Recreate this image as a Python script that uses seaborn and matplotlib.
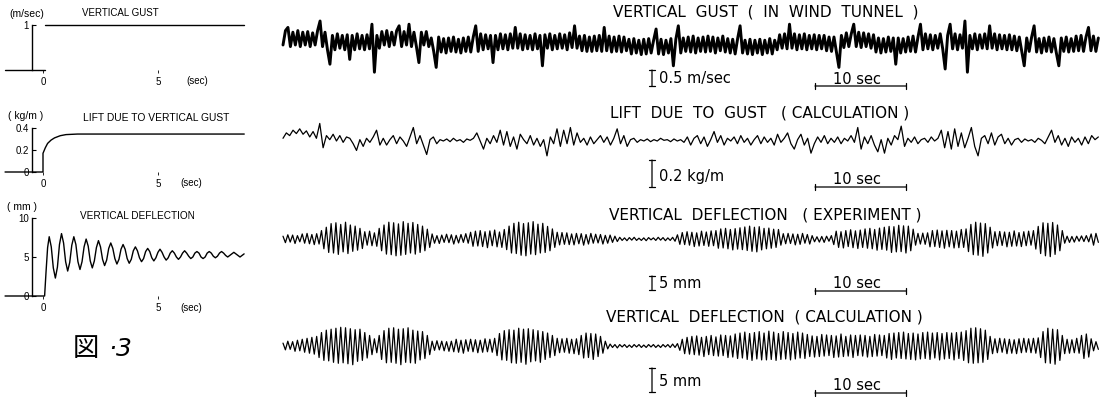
import numpy as np
import matplotlib
matplotlib.use("Agg")
import matplotlib.pyplot as plt
import seaborn as sns

# ---- left column: response to a unit step gust (time in sec) ----
gust_step_t = [-1.65, 0.1, 0.1, 8.75]
gust_step_v = [0, 0, 1, 1]  # m/sec

lift_step_t = [-1.65, 0, 0, 0.1, 0.2, 0.35, 0.5, 0.75, 1.0, 1.5, 8.75]
lift_step_v = [0, 0, 0.17, 0.22, 0.26, 0.29, 0.31, 0.33, 0.34, 0.345, 0.345]  # kg/m

defl_rise_t = [-1.65, 0.07, 0.13, 0.2]
defl_rise_v = [0, 0, 3.0, 6.2]
# mm, read every 0.0892 sec starting at the first peak (0.27 sec)
defl_osc_v = [7.6, 6.3, 3.6, 2.3, 3.7, 6.6, 8.0, 6.8, 4.4, 3.2, 4.3, 6.5,
              7.6, 6.6, 4.4, 3.4, 4.4, 6.3, 7.3, 6.4, 4.5, 3.6, 4.5, 6.2,
              7.1, 6.3, 4.7, 3.9, 4.6, 6.1, 6.8, 6.1, 4.8, 4.1, 4.7, 6.0,
              6.6, 6.0, 4.8, 4.2, 4.7, 5.8, 6.3, 5.8, 4.9, 4.4, 4.8, 5.7,
              6.1, 5.7, 4.9, 4.5, 4.9, 5.6, 6.0, 5.6, 5.0, 4.6, 4.9, 5.5,
              5.8, 5.5, 5.0, 4.7, 5.0, 5.5, 5.8, 5.5, 5.1, 4.8, 5.0, 5.5,
              5.7, 5.5, 5.0, 4.8, 5.0, 5.5, 5.7, 5.5, 5.1, 4.9, 5.1, 5.5,
              5.7, 5.5, 5.2, 5.0, 5.2, 5.4, 5.6, 5.4, 5.2, 5.0, 5.2, 5.4]
defl_osc_t0, defl_osc_dt = 0.27, 0.0892

# ---- right column: recorded / computed time histories ----
record_sec = 89.6

gust_cms = [  # cm/sec
    0, 45, 55, -5, 40, 0, 45, -5, 40, 0, 42, -5, 38, 0, 45, 75, -5, 40, -15, -60,
    30, -15, 35, -10, 30, -15, 32, -45, 30, -15, 35, -12, 30, -15, 32, -12, 65, -85, 30, -10,
    42, 0, 45, -5, 40, 0, 45, 60, -5, 42, 0, 65, -5, 40, -5, -55, 40, 0, 42, -5,
    22, -20, -70, 25, -22, 20, -25, 22, -20, 25, -22, 18, -25, 22, -20, 25, -22, 25, 60, -20,
    35, -15, 32, -12, 30, -55, 30, -15, 35, -12, 32, -15, 35, -10, 55, -10, 35, -15, 32, -12,
    30, -15, 35, -12, 30, -65, 32, -10, 35, -15, 30, -12, 35, -10, 32, -15, 38, -8, 60, -10,
    28, -18, 30, -20, 25, -20, 28, -18, 30, -20, 55, -18, 28, -22, 25, -20, 28, -22, 25, -18,
    18, -28, 20, -25, 15, -30, 18, -28, 20, -25, 15, 50, -28, 18, -30, 15, -25, 20, -65, 18,
    60, -25, 22, -20, 25, -22, 28, -25, 22, -20, 25, -22, 28, -20, 25, -25, 22, -18, 28, -22,
    20, -25, 18, -28, 20, 60, -25, 15, -28, 18, -30, 15, -25, 18, -30, 15, -25, 20, -28, 15,
    -15, 32, -10, 35, -12, 65, -10, 35, -15, 32, -12, 35, -15, 30, -12, 32, -15, 30, -12, 30,
    -18, 25, -20, 25, -22, -70, 30, -8, 38, -5, 35, 65, -5, 40, -8, 38, -5, 35, -10, 32,
    -22, 22, -25, 20, -22, 25, -20, 22, -60, 22, -25, 20, -22, 25, -20, 28, -22, 25, 65, -15,
    35, -12, 32, -15, 30, -10, 35, -12, -75, 30, 65, -12, 35, -15, 32, -10, 75, -85, 30, -12,
    35, -15, 32, -10, 35, -12, 60, -10, 35, -15, 32, -12, 30, -15, 32, -15, 28, -18, 25, -20,
    -65, 22, -20, 25, 60, -22, 20, -25, 22, -20, 25, -22, 20, -25, -65, 22, -20, 25, -22, 20,
    -20, 28, -18, 30, -20, 25, 55, -18, 28, -20, 22]

lift_gm = [  # g/m
    20, 60, 40, 80, 55, 90, 50, 75, 30, 70, 20, 130, -50, 40, 10,
    50, 0, 40, -10, 30, 20, -20, -70, 10, -40, 20, -10, 30, 80, -30,
    20, -30, 10, 40, -20, 30, 0, -40, 30, 100, -20, 40, -30, -100, 10,
    30, -20, 10, 0, 15, -5, 20, 0, 10, -10, 15, 5, 20, 60, 0,
    -60, 20, -20, 40, -10, 80, -30, 70, -40, 30, -60, 50, 10, -20, 40,
    -30, 20, -40, 10, -110, 30, -20, 90, -40, 80, -20, 100, -30, 60, -10,
    20, -30, 30, -20, 10, 40, -10, 30, -30, 20, 90, -20, 40, -40, 10,
    20, -10, 10, 0, 15, -5, 10, 0, 20, 5, 10, -5, 15, 0, 10,
    -10, 30, -30, 20, 40, -20, 30, -40, 10, 70, -10, 40, -30, 20, 0,
    30, -20, 40, -10, 20, -30, 10, 40, -20, 30, -10, 20, -30, 50, -10,
    20, 60, -20, -60, 10, 50, -30, 20, -90, -20, 30, -10, 40, -20, 20,
    -10, 30, -20, 20, 0, 40, -10, 100, -60, 30, -20, 40, -30, -80, 10,
    -90, 20, -30, 40, 10, 110, -40, 20, -10, 30, -20, 10, 20, -10, 30,
    0, 20, 80, -50, 70, -60, 90, -40, 60, -50, 20, 100, -40, -110, 20,
    40, -20, 60, -30, 30, 50, -20, 20, -30, 10, 20, -10, 15, 0, 10,
    -10, 20, 5, -20, 30, 80, -10, 40, -30, 20, -40, 30, -10, 20, -30,
    30, -20, 40, 10, 30]

defl_exp_mm = [  # successive peaks / troughs
    1.0, -1.3, 1.5, -1.1, 1.4, -1.6, 1.2, -1.0, 1.8, -1.5, 2.0, -1.7, 1.6, -2.0, 1.9, -1.8, 3.0, -3.5, 4.2, -4.8,
    5.5, -5.0, 5.8, -5.5, 5.2, -4.6, 6.0, -5.2, 5.0, -4.4, 4.6, -4.0, 3.8, -3.4, 2.6, -2.2, 2.8, -2.4, 2.2, -2.6,
    3.8, -4.2, 5.0, -5.4, 6.0, -5.6, 5.8, -6.0, 5.4, -5.8, 6.2, -5.5, 5.6, -5.0, 5.9, -5.4, 5.2, -4.8, 4.6, -4.2,
    3.5, -3.0, 1.8, -1.5, 1.2, -1.6, 1.4, -1.2, 1.7, -1.3, 1.5, -1.8, 1.3, -1.4, 1.6, -1.2, 1.9, -1.5, 2.4, -2.6,
    2.8, -2.5, 3.0, -2.7, 2.6, -3.1, 2.9, -2.4, 3.2, -2.8, 2.5, -3.0, 3.4, -3.8, 4.6, -5.0, 5.6, -5.2, 6.0, -5.8,
    5.5, -6.0, 5.8, -5.4, 6.2, -5.6, 5.3, -5.0, 5.6, -4.8, 4.5, -4.2, 3.6, -3.0, 2.4, -2.1, 2.3, -1.9, 2.2, -2.0,
    1.8, -2.1, 2.0, -1.7, 1.9, -2.2, 1.6, -1.8, 2.0, -1.5, 1.7, -1.4, 1.6, -1.8, 1.3, -1.5, 1.4, -1.2, 1.0, -0.9,
    0.6, -0.5, 0.4, -0.6, 0.5, -0.4, 0.6, -0.5, 0.3, -0.5, 0.4, -0.6, 0.5, -0.3, 0.4, -0.5, 0.6, -0.4, 0.5, -0.6,
    0.4, -0.5, 0.6, -0.8, 1.5, -1.9, 2.3, -2.0, 2.6, -2.2, 2.4, -2.7, 2.2, -2.5, 2.8, -2.3, 2.5, -2.6, 2.9, -2.4,
    3.0, -3.3, 3.6, -3.2, 3.8, -3.5, 3.4, -3.9, 3.7, -3.6, 4.0, -3.8, 4.3, -4.1, 4.6, -4.4, 4.2, -4.6, 4.4, -3.9,
    3.8, -3.5, 3.9, -3.3, 3.5, -3.0, 3.4, -2.2, 1.9, -1.7, 2.0, -1.6, 1.8, -2.1, 1.7, -1.9, 2.0, -1.5, 1.6, -1.8,
    1.2, -1.0, 0.8, -1.1, 0.9, -1.2, 1.0, -0.8, 1.2, -2.0, 2.8, -3.0, 2.6, -3.2, 3.0, -2.7, 3.3, -3.1, 2.9, -3.4,
    3.2, -3.0, 3.6, -3.3, 3.8, -3.5, 3.4, -4.0, 3.9, -3.7, 4.2, -4.0, 4.5, -4.8, 4.4, -4.6, 4.9, -4.5, 4.7, -5.0,
    4.6, -4.2, 3.5, -2.2, 2.0, -1.8, 2.1, -1.9, 2.2, -2.8, 3.0, -2.7, 3.2, -3.0, 2.9, -3.3, 3.1, -2.8, 3.0, -3.2,
    2.8, -3.1, 3.4, -3.0, 3.6, -4.5, 5.2, -5.6, 6.0, -5.8, 5.7, -6.2, 5.5, -5.0, 4.2, -3.2, 2.6, -2.4, 2.7, -2.3,
    2.5, -2.8, 2.4, -2.6, 2.9, -2.5, 2.3, -2.7, 2.6, -2.4, 2.8, -2.2, 3.0, -3.6, 4.5, -5.2, 5.8, -6.0, 5.6, -6.3,
    5.9, -5.5, 5.0, -4.2, 3.0, -1.5, 1.0, -1.2, 0.9, -1.1, 1.0, -0.8, 1.1, -0.9, 1.2, -1.0, 1.8, -2.2, 2.0, -1.2]

defl_calc_mm = [
    0.6, -0.8, 1.0, -0.7, 0.9, -1.1, 1.2, -1.0, 1.4, -1.3, 1.6, -1.5, 1.8, -1.7, 2.0, -2.4, 2.8, -3.0, 3.3, -3.1,
    3.5, -3.4, 3.7, -3.6, 3.9, -3.5, 3.8, -3.7, 3.6, -3.9, 3.4, -3.2, 3.5, -3.0, 2.8, -2.5, 2.2, -1.8, 1.5, -1.4,
    2.2, -2.8, 3.2, -3.5, 3.7, -3.4, 3.8, -3.6, 3.5, -3.9, 3.6, -3.4, 3.8, -3.5, 3.3, -3.6, 3.1, -2.9, 3.0, -2.6,
    2.2, -1.8, 1.0, -0.9, 1.1, -0.8, 1.0, -1.0, 0.9, -1.1, 1.0, -1.2, 1.4, -1.3, 1.2, -1.5, 1.3, -1.1, 1.4, -1.2,
    1.3, -1.4, 1.2, -1.3, 1.5, -1.2, 1.4, -1.3, 1.6, -2.0, 2.6, -2.9, 3.2, -3.0, 3.4, -3.5, 3.3, -3.6, 3.7, -3.4,
    3.5, -3.8, 3.6, -3.3, 3.4, -3.1, 3.2, -3.4, 3.0, -2.8, 2.7, -2.4, 2.2, -2.0, 1.6, -1.4, 1.5, -1.3, 1.6, -1.5,
    1.4, -1.6, 1.5, -1.8, 2.2, -2.5, 2.7, -2.4, 2.6, -2.8, 2.5, -2.2, 2.0, -1.5, 1.0, -0.6, 0.4, -0.3, 0.3, -0.4,
    0.3, -0.2, 0.3, -0.3, 0.2, -0.3, 0.3, -0.2, 0.3, -0.3, 0.2, -0.3, 0.3, -0.2, 0.3, -0.3, 0.2, -0.3, 0.3, -0.2,
    0.3, -0.3, 0.4, -0.3, 0.5, -0.9, 1.4, -1.6, 1.8, -1.7, 2.0, -1.8, 2.1, -1.9, 1.8, -2.2, 2.0, -1.8, 2.2, -2.0,
    1.9, -2.1, 2.3, -2.0, 2.2, -2.4, 2.1, -2.3, 2.5, -2.6, 2.7, -2.5, 2.9, -2.8, 2.6, -3.0, 2.8, -2.7, 3.0, -2.9,
    2.7, -2.9, 3.1, -2.8, 2.9, -3.0, 2.6, -2.8, 3.0, -2.7, 2.8, -2.9, 2.6, -2.7, 2.9, -2.5, 2.7, -2.6, 2.4, -2.2,
    2.1, -2.3, 2.0, -2.2, 2.4, -2.1, 2.3, -2.0, 2.2, -2.4, 2.1, -2.3, 2.5, -2.2, 2.0, -2.1, 2.3, -2.4, 2.2, -2.0,
    2.3, -2.1, 2.2, -2.3, 2.0, -2.2, 2.4, -2.1, 2.3, -2.0, 2.2, -2.5, 2.6, -2.8, 2.7, -2.5, 2.8, -2.6, 2.9, -2.7,
    2.6, -2.8, 2.7, -2.9, 2.5, -2.7, 2.8, -2.6, 2.9, -2.8, 2.7, -2.5, 2.8, -2.9, 2.6, -2.7, 2.8, -2.6, 2.7, -2.9,
    2.8, -2.6, 2.9, -3.0, 3.2, -3.5, 3.7, -3.6, 3.8, -3.5, 3.6, -3.4, 3.3, -2.8, 2.0, -1.6, 1.5, -1.4, 1.6, -1.3,
    1.5, -1.6, 1.4, -1.5, 1.3, -1.6, 1.5, -1.4, 1.6, -1.3, 1.5, -1.4, 1.6, -1.5, 1.7, -2.4, 3.0, -3.5, 3.7, -3.6,
    3.5, -3.8, 3.4, -3.0, 2.2, -1.6, 1.4, -1.5, 1.3, -1.4, 1.6, -1.5, 2.2, -2.6, 2.5, -2.3, 1.5, -1.0, 0.9, -0.7]


W, H = 1112, 397
sns.set_theme(style="white")
plt.rcParams['font.family'] = ['Liberation Sans', 'DejaVu Sans']
plt.rcParams['text.color'] = 'black'
plt.rcParams['xtick.color'] = 'black'
plt.rcParams['ytick.color'] = 'black'
plt.rcParams['axes.edgecolor'] = 'black'
WIDE = ['DejaVu Sans']  # lettering on the right is broad and open

fig = plt.figure(figsize=(W / 100, H / 100), dpi=100)
fig.patch.set_facecolor('white')


def make_axes(box, t0, v0, kx, ky):
    # box in pixels (left, top, right, bottom); t0/v0 = pixel of the data origin
    x0, y0, x1, y1 = box
    ax = fig.add_axes([x0 / W, 1 - y1 / H, (x1 - x0) / W, (y1 - y0) / H])
    ax.set_facecolor('none')
    for s in ax.spines.values():
        s.set_visible(False)
    lims = (((x0 - t0) / kx, (x1 - t0) / kx), ((v0 - y1) / ky, (v0 - y0) / ky))

    def to_data(px, py):
        return (px - t0) / kx, (v0 - py) / ky
    return ax, lims, to_data


def finish(ax, lims):
    ax.set_xlim(*lims[0])
    ax.set_ylim(*lims[1])
    ax.set_xlabel('')
    ax.set_ylabel('')
    ax.set_xticks([])
    ax.set_yticks([])


def trace(ax, t, v, lw):
    sns.lineplot(x=list(t), y=list(v), ax=ax, color='black', linewidth=lw,
                 estimator=None, sort=False)


def ftext(px, py, s, size, ha='center', **kw):
    fig.text(px / W, 1 - py / H, s, fontsize=size, ha=ha, va='center', **kw)


def style_left(ax, lims, yticks, ylabels, ytop):
    finish(ax, lims)
    ax.spines['left'].set_visible(True)
    ax.spines['left'].set_position(('data', -0.48))
    ax.spines['left'].set_bounds(0, ytop)
    ax.spines['left'].set_linewidth(1.0)
    ax.spines['bottom'].set_position(('data', 0))
    ax.set_yticks(yticks, ylabels)
    ax.set_xticks([0, 5], ['0', '5'])
    ax.tick_params(axis='y', left=True, direction='in', length=3, width=0.8,
                   labelsize=7, pad=2)
    ax.tick_params(axis='x', bottom=True, direction='out', length=2, width=0.6,
                   labelsize=7, pad=3)


# ---- left panels ----
ax, lims, _ = make_axes((0, 0, 262, 96), 43, 70, 23, 45)
trace(ax, gust_step_t[:2], gust_step_v[:2], 1.0)
trace(ax, gust_step_t[2:], gust_step_v[2:], 1.0)
style_left(ax, lims, [1], ['1'], 1)
ftext(27, 14, '(m/sec)', 7.5)
ftext(120, 13, 'VERTICAL GUST', 7)
ftext(197, 81, '(sec)', 7)

ax, lims, _ = make_axes((0, 100, 262, 196), 43, 172, 23, 110)
trace(ax, lift_step_t, lift_step_v, 1.0)
style_left(ax, lims, [0, 0.2, 0.4], ['0', '0.2', '0.4'], 0.4)
ftext(26, 116, '( kg/m )', 7.5)
ftext(156, 118, 'LIFT DUE TO VERTICAL GUST', 7.4)
ftext(191, 183, '(sec)', 7)

ax, lims, _ = make_axes((0, 200, 262, 320), 43, 296, 23, 7.8)
osc_t = defl_osc_t0 + defl_osc_dt * np.arange(len(defl_osc_v))
trace(ax, defl_rise_t + list(osc_t), defl_rise_v + defl_osc_v, 1.0)
style_left(ax, lims, [0, 5, 10], ['0', '5', '10'], 10)
ftext(22, 207, '( mm )', 7.5)
ftext(137, 216, 'VERTICAL DEFLECTION', 7.2)
ftext(191, 308, '(sec)', 7)

ftext(86, 348, '図', 19, family=['Noto Sans CJK JP', 'DejaVu Sans'])
ftext(120, 349, '·3', 18, style='italic', family=['DejaVu Sans'])


# ---- right panels ----
def scale_bars(ax, to_data, bar_top, bar_len, label, label_py, sec_py, arrow_py):
    bx, by = to_data(652, bar_top)
    ax.annotate('', xy=(bx, by), xytext=(bx, by - bar_len),
                arrowprops=dict(arrowstyle='|-|,widthA=0.2,widthB=0.2',
                                color='black', lw=0.9, shrinkA=0, shrinkB=0))
    lx, ly = to_data(659, label_py)
    ax.text(lx, ly, label, fontsize=10.5, ha='left', va='center', family=WIDE)
    sx, sy = to_data(815, arrow_py)
    ax.annotate('', xy=(sx, sy), xytext=(sx + 10, sy),
                arrowprops=dict(arrowstyle='|-|,widthA=0.2,widthB=0.2',
                                color='black', lw=0.9, shrinkA=0, shrinkB=0))
    tx, ty = to_data(857, sec_py)
    ax.text(tx, ty, '10 sec', fontsize=10.5, ha='center', va='center', family=WIDE)


ax, lims, px = make_axes((270, 0, 1112, 100), 283, 45, 9.1, 32)
trace(ax, np.linspace(0, record_sec, len(gust_cms)), np.array(gust_cms) / 100, 2.1)
finish(ax, lims)
scale_bars(ax, px, 70, 0.5, '0.5 m/sec', 78, 79, 86)
ftext(766, 12, 'VERTICAL  GUST  (  IN  WIND  TUNNEL  )', 11, family=WIDE)

ax, lims, px = make_axes((270, 100, 1112, 200), 283, 141, 9.1, 135)
trace(ax, np.linspace(0, record_sec, len(lift_gm)), np.array(lift_gm) / 1000, 0.9)
finish(ax, lims)
scale_bars(ax, px, 160, 0.2, '0.2 kg/m', 176, 180, 187)
ftext(760, 113, 'LIFT  DUE  TO  GUST   ( CALCULATION )', 11, family=WIDE)

ax, lims, px = make_axes((270, 200, 1112, 300), 283, 239, 9.1, 2.8)
trace(ax, np.linspace(0, record_sec, len(defl_exp_mm)), defl_exp_mm, 0.9)
finish(ax, lims)
scale_bars(ax, px, 276, 5, '5 mm', 283, 283, 291)
ftext(765, 215, 'VERTICAL  DEFLECTION   ( EXPERIMENT )', 11, family=WIDE)

ax, lims, px = make_axes((270, 300, 1112, 397), 283, 346, 9.1, 4.8)
trace(ax, np.linspace(0, record_sec, len(defl_calc_mm)), defl_calc_mm, 0.9)
finish(ax, lims)
scale_bars(ax, px, 368, 5, '5 mm', 381, 385, 393)
ftext(764, 317, 'VERTICAL  DEFLECTION  ( CALCULATION )', 11, family=WIDE)

fig.savefig('out.png', dpi=100, facecolor='white')
